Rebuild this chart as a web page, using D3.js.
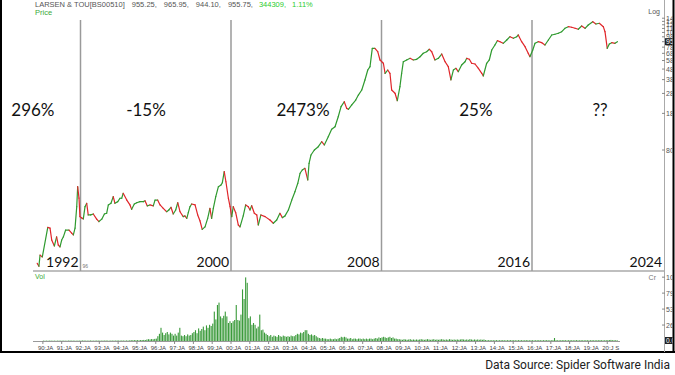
<!DOCTYPE html>
<html>
<head>
<meta charset="utf-8">
<script src="https://cdn.jsdelivr.net/npm/d3@7/dist/d3.min.js"></script>
<style>
body{margin:0;background:#fff;}
svg{display:block;}
</style>
</head>
<body>
<div class="graph"></div>
<script>
// price trace, decimal year + price (log axis)
var years=[1989.70,1989.79,1989.85,1989.97,1990.26,1990.38,1990.47,1990.61,1990.73,1990.82,1990.91,1991.00,1991.09,1991.21,1991.39,1991.53,1991.62,1991.71,1991.80,1991.85,1991.92,1991.97,
1992.06,1992.15,1992.24,1992.33,1992.41,1992.54,1992.68,1992.86,1992.98,1993.13,1993.27,1993.39,1993.48,1993.62,1993.74,1993.83,1993.98,1994.10,1994.19,1994.27,1994.46,1994.63,1994.72,1994.86,1994.99,
1995.16,1995.34,1995.43,1995.55,1995.69,1995.87,1995.96,1996.10,1996.23,1996.40,1996.58,1996.70,1996.81,1996.93,1997.06,1997.17,1997.29,1997.46,1997.55,1997.65,1997.73,1997.82,1997.91,
1998.09,1998.23,1998.35,1998.47,1998.62,1998.76,1998.88,1998.97,1999.06,1999.19,1999.33,1999.47,1999.54,1999.64,1999.73,1999.86,1999.95,2000.04,2000.12,2000.25,2000.39,2000.48,
2000.65,2000.78,2000.92,2001.01,2001.10,2001.24,2001.37,2001.45,2001.59,2001.81,2002.07,2002.25,2002.43,2002.60,2002.73,2002.87,2003.05,2003.23,2003.40,2003.55,2003.67,2003.79,2003.93,
2004.08,2004.15,2004.25,2004.43,2004.64,2004.82,2004.96,2005.17,2005.35,2005.53,2005.70,2005.85,2006.02,2006.15,2006.24,2006.42,2006.63,2006.77,2006.95,2007.12,2007.27,2007.39,2007.51,2007.65,2007.80,2007.92,
2008.10,2008.19,2008.33,2008.45,2008.54,2008.72,2008.84,2008.98,2009.07,2009.16,2009.34,2009.52,2009.69,2009.87,2010.05,2010.22,2010.40,2010.54,2010.67,2010.84,2011.02,2011.20,2011.38,2011.55,2011.69,2011.82,2011.96,
2012.08,2012.26,2012.44,2012.53,2012.67,2012.79,2012.97,2013.15,2013.33,2013.41,2013.59,2013.73,2013.86,2014.03,2014.16,2014.30,2014.47,2014.66,2014.83,2015.01,2015.19,2015.27,2015.45,2015.63,2015.80,2015.89,
2016.04,2016.16,2016.33,2016.52,2016.69,2016.87,2017.05,2017.22,2017.40,2017.58,2017.75,2017.93,2018.11,2018.29,2018.46,2018.64,2018.82,2018.99,2019.23,2019.40,2019.58,2019.79,2019.88,2020.00,2020.11,2020.24,2020.41,2020.54];
var prices=[6.5,6.1,7.8,7.5,14.4,14.2,10.9,9.55,11.7,9.76,9.35,10.9,11.7,13.6,13.6,12.7,12.2,14.2,22.8,35.5,27.6,18.3,
17.8,17.4,22.8,24.6,19.0,19.0,19.4,17.3,16.4,17.3,19.4,19.7,23.7,24.6,28.5,24.6,25.5,27.5,27.5,30.7,26.4,23.7,21.5,24.2,24.9,
25.5,25.5,26.0,23.2,23.7,23.2,26.4,26.4,23.7,22.0,20.4,21.2,22.5,19.4,21.2,24.9,20.4,18.3,18.6,17.6,19.96,22.8,24.2,
23.7,19.0,16.7,13.8,14.6,17.6,22.0,17.6,22.0,28.5,35.5,36.9,38.8,49.5,39.6,27.5,22.8,18.3,22.8,19.96,15.2,14.6,
18.6,23.7,22.8,21.2,23.3,19.7,19.0,15.2,19.0,18.3,17.0,15.8,17.0,19.7,17.9,18.6,21.2,26.4,31.8,38.3,47.8,51.4,53.3,
41.2,59.6,71.6,80,86.1,96.1,89.4,107.4,126.5,134,167,209,233,201,197,217,242,270,302,377,470,506,760,760,705,587,
546,437,470,437,302,281,238,325,437,565,587,609,587,596,631,681,705,744,705,587,609,670,565,506,377,470,488,
453,525,565,609,596,546,537,488,437,412,546,587,732,818,900,880,849,914,983,949,983,1021,880,788,681,631,
732,849,880,861,818,914,1021,1037,1060,1098,1184,1227,1211,1184,1158,1246,1184,1274,1371,1302,1323,1227,1098,760,836,861,849,880];

// monthly volume (Cr), Jan 1990 onwards
var volStart=1990;
var volumes=[].concat(
[0.6,0.5,0.6,0.5,0.7,0.6,0.5,0.6,0.5,0.6,0.7,0.6],
[0.6,0.7,0.5,0.6,0.7,0.8,0.6,0.7,0.6,0.5,0.7,0.6],
[0.7,0.9,0.8,0.7,0.6,0.7,0.8,0.7,0.6,0.7,0.8,0.7],
[0.7,0.6,0.8,0.7,0.9,0.7,0.6,0.8,0.7,0.8,0.7,0.9],
[0.8,0.7,0.9,0.8,0.7,0.9,0.8,1.0,1.4,1.2,1.5,1.3],
[1.4,1.2,1.6,1.5,1.8,1.6,2.5,3.0,2.6,3.2,2.8,3.5],
[4,8,12,22,14,10,13,15,11,14,12,9],
[12,9,14,22,9,8,10,8,11,9,10,13],
[15,18,13,21,17,20,24,18,26,22,27,25],
[29,49,36,60,64,41,38,42,49,41,30,33],
[30,33,35,60,35,34,44,86,70,106,97,38],
[41,27,30,27,21,24,44,18,19,14,12,10],
[8,10,7,9,8,7,10,8,7,9,8,7],
[8,7,9,8,8,10,12,11,14,13,15,18],
[18,12,10,11,9,10,8,6,5,4,5,4],
[4,3,3,4,3,3,4,3,4,5,7,6],
[7,6,4,4,5,3,4,4,3,4,4,3],
[4,3,4,3,4,4,3,4,5,4,6,5],
[6,7,6,5,6,7,5,6,4,4,3,3],
[2.5,2,3,2.5,2,2.5,3,2,2.5,2,2.5,2],
[2.5,3,2.5,2,2.5,3,2.5,2,2.5,3,2,2.5],
[2,2.5,3,2.5,2,2.5,2,3,2.5,2,2.5,2],
[2.5,2,2.5,3,2.5,2,2.5,2,3,2.5,2,2.5],
[2,2.5,2,2.5,2,2.5,1.5,1.2,1.4,1.2,1.3,1.2],
[1.2,1.4,1.1,1.3,1.2,1.4,1.2,1.1,1.3,1.2,1.4,1.2],
[1.3,1.2,1.1,1.4,1.2,1.3,1.1,1.2,1.4,1.2,1.1,1.3],
[1.2,1.1,1.3,1.2,1.4,1.2,1.1,1.3,1.2,1.4,1.2,1.1],
[1.2,1.4,5,1.3,1.2,1.1,1.3,1.2,1.4,1.2,1.1,1.3],
[1.2,1.3,1.1,1.2,1.4,1.2,1.1,1.3,1.2,1.1,1.3,1.2],
[1.1,1.2,1.3,1.2,1.1,1.3,1.2,1.4,1.2,1.1,1.2,1.3],
[1.3,1.5,1.8,1.2,1.3,1.2,1.1]
);

var eraYears=[1992,2000,2008,2016,2024];
var eraLabels=["1992","2000","2008","2016","2024"];
var returnLabels=["296%","-15%","2473%","25%","??"];
var returnYears=[1989.47,1995.48,2003.83,2013.02,2019.62];
var priceTicks=[80,180,280,380,480,580,680,780,880,980,1080,1180,1280,1380,1480];
var volTicks=[26.6,53.2,79.8,106.4];
var tickYears=d3.range(1990,2021);
var header=["LARSEN & TOU[BS00510]","955.25,","965.95,","944.10,","955.75,"];
var headerGreen=["344309,","1.11%"];
var lastPrice="955";

var W=675,H=375;
var svg=d3.select(".graph").append("svg").attr("width",W).attr("height",H);

var x=d3.scaleLinear().domain([2000,2016]).range([231,532]);
var y=d3.scaleLog().domain([8,800]).range([254,46]);
var v=d3.scaleLinear().domain([0,115]).range([341,272]);

var green="#2f9a2f", red="#e0262a", grid="#9a9a9a";
var small="Liberation Sans, Arial";

// frame
svg.append("line").attr("x1",1).attr("x2",1).attr("y1",0).attr("y2",352).attr("stroke","#000").attr("stroke-width",2);
svg.append("line").attr("x1",673.5).attr("x2",673.5).attr("y1",0).attr("y2",352).attr("stroke","#000").attr("stroke-width",2);
svg.append("line").attr("x1",0).attr("x2",675).attr("y1",352).attr("y2",352).attr("stroke","#000").attr("stroke-width",2);
svg.append("line").attr("x1",664.5).attr("x2",664.5).attr("y1",0).attr("y2",352).attr("stroke","#aaa");
svg.append("line").attr("x1",33).attr("x2",664).attr("y1",271).attr("y2",271).attr("stroke","#aaa").attr("stroke-width",1.5);

// era separators
svg.selectAll(".era").data(eraYears.slice(0,4)).enter().append("line")
  .attr("x1",function(d){return x(d);}).attr("x2",function(d){return x(d);})
  .attr("y1",20).attr("y2",271).attr("stroke",grid).attr("stroke-width",1.5);

// header
var ht=svg.append("text").attr("x",35).attr("y",7).style("font-family",small).style("font-size","7.5px").attr("fill","#555");
header.forEach(function(s,i){ht.append("tspan").attr("dx",i?7:0).text(s);});
headerGreen.forEach(function(s){ht.append("tspan").attr("dx",6).attr("fill","#2ccc2c").text(s);});
svg.append("text").attr("x",35).attr("y",15).style("font-family",small).style("font-size","7.5px").attr("fill","#3aaa3a").text("Price");
svg.append("text").attr("x",660).attr("y",14).attr("text-anchor","end").style("font-family",small).style("font-size","7px").attr("fill","#555").text("Log");
svg.append("text").attr("x",35).attr("y",279).style("font-family",small).style("font-size","7px").attr("fill","#3aaa3a").text("Vol");
svg.append("text").attr("x",656).attr("y",280).attr("text-anchor","end").style("font-family",small).style("font-size","7px").attr("fill","#777").text("Cr");

// right axis labels, clipped to the narrow column
svg.append("clipPath").attr("id","axclip").append("rect").attr("x",665).attr("y",0).attr("width",7.5).attr("height",352);
var ax=svg.append("g").attr("clip-path","url(#axclip)");
ax.selectAll(".pt").data(priceTicks).enter().append("text")
  .attr("x",666).attr("y",function(d){return y(d)+2.5;})
  .style("font-family",small).style("font-size","7px").attr("fill","#555").text(function(d){return d;});
ax.append("rect").attr("x",665).attr("y",y(prices[prices.length-1])-3.5).attr("width",8).attr("height",7).attr("fill","#222");
ax.append("text").attr("x",666).attr("y",y(prices[prices.length-1])+2.5).style("font-family",small).style("font-size","7px").attr("fill","#fff").text(lastPrice);
ax.selectAll(".vt").data(volTicks).enter().append("text")
  .attr("x",666).attr("y",function(d){return v(d)+2.5;})
  .style("font-family",small).style("font-size","7px").attr("fill","#555").text(function(d){return d;});
ax.append("rect").attr("x",665).attr("y",v(0)-4).attr("width",8).attr("height",7).attr("fill","#222");
ax.append("text").attr("x",666).attr("y",v(0)+2).style("font-family",small).style("font-size","6.5px").attr("fill","#fff").text("0.0");
svg.selectAll(".ptk").data(priceTicks).enter().append("line")
  .attr("x1",662).attr("x2",665).attr("y1",function(d){return y(d);}).attr("y2",function(d){return y(d);}).attr("stroke","#888");
svg.selectAll(".vtk").data(volTicks).enter().append("line")
  .attr("x1",662).attr("x2",665).attr("y1",function(d){return v(d);}).attr("y2",function(d){return v(d);}).attr("stroke","#888");

// price line, green up / red down
var segs=[];
for(var i=1;i<prices.length;i++){
  segs.push({x1:years[i-1],y1:prices[i-1],x2:years[i],y2:prices[i],up:prices[i]>=prices[i-1]});
}
svg.selectAll(".seg").data(segs).enter().append("line")
  .attr("x1",function(d){return x(d.x1);}).attr("y1",function(d){return y(d.y1);})
  .attr("x2",function(d){return x(d.x2);}).attr("y2",function(d){return y(d.y2);})
  .attr("stroke",function(d){return d.up?green:red;}).attr("stroke-width",1.2).attr("stroke-linecap","round");

// volume bars
svg.selectAll(".vol").data(volumes).enter().append("rect")
  .attr("x",function(d,i){return x(volStart+i/12);}).attr("width",1.1)
  .attr("y",function(d){return v(d);}).attr("height",function(d){return v(0)-v(d);})
  .attr("fill","#3a9a3a");

// time axis
svg.append("line").attr("x1",33).attr("x2",620).attr("y1",v(0)+0.5).attr("y2",v(0)+0.5).attr("stroke","#999");
svg.selectAll(".xtk").data(tickYears).enter().append("line")
  .attr("x1",function(d){return x(d);}).attr("x2",function(d){return x(d);})
  .attr("y1",v(0)).attr("y2",v(0)+3).attr("stroke","#888");
svg.selectAll(".xl").data(tickYears).enter().append("text")
  .attr("x",function(d){return x(d)-5;}).attr("y",350)
  .style("font-family",small).style("font-size","6px").attr("fill","#444")
  .text(function(d){return d3.format("02")(d%100)+(d==2020?":J S":":JA");});

// era year labels
svg.selectAll(".el").data(eraYears).enter().append("text")
  .attr("x",function(d,i){return i==4?662:x(d)-2;}).attr("y",267).attr("text-anchor","end")
  .style("font-family","Lato, sans-serif").style("font-size","14px").attr("fill","#111")
  .text(function(d,i){return eraLabels[i];});
svg.append("text").attr("x",x(eraYears[0])+2).attr("y",268).style("font-family",small).style("font-size","5px").attr("fill","#777").text("96");

// returns per era
svg.selectAll(".rl").data(returnYears).enter().append("text")
  .attr("x",function(d){return x(d);}).attr("y",116).attr("text-anchor","middle")
  .style("font-family","Lato, sans-serif").style("font-size","17px").attr("fill","#111")
  .text(function(d,i){return returnLabels[i];});

svg.append("text").attr("x",670).attr("y",369).attr("text-anchor","end")
  .style("font-family","Roboto, sans-serif").style("font-size","12px").attr("fill","#222")
  .text("Data Source: Spider Software India");
</script>
</body>
</html>
